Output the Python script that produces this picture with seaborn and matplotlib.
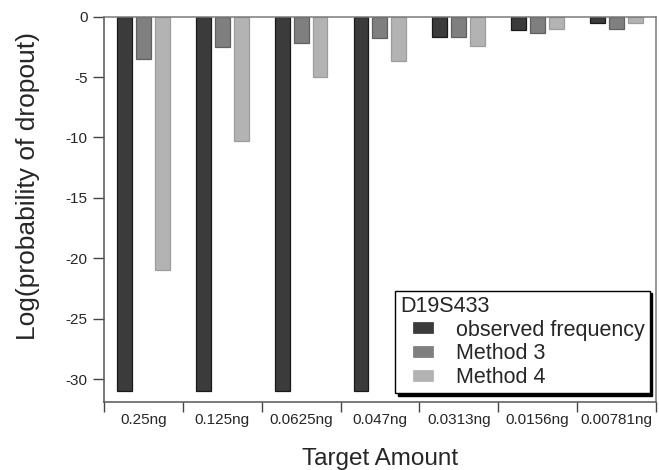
import numpy as np
import pandas as pd
import matplotlib
matplotlib.use("Agg")
import matplotlib.pyplot as plt
from matplotlib.patches import Rectangle
from matplotlib.legend_handler import HandlerPatch
import seaborn as sns

# data
amounts = ["0.25ng", "0.125ng", "0.0625ng", "0.047ng", "0.0313ng", "0.0156ng", "0.00781ng"]
observed = [-31.0, -31.0, -31.0, -31.0, -1.65, -1.1, -0.55]
method3 = [-3.5, -2.5, -2.15, -1.8, -1.7, -1.35, -1.05]
method4 = [-21.0, -10.3, -5.0, -3.7, -2.4, -1.05, -0.55]
series_names = ["observed frequency", "Method 3", "Method 4"]
yticks = [0, -5, -10, -15, -20, -25, -30]

df = pd.DataFrame({
    "amount": amounts * 3,
    "value": observed + method3 + method4,
    "series": np.repeat(series_names, len(amounts)),
})

sns.set_style("white")
plt.rcParams["font.family"] = ["Liberation Sans", "DejaVu Sans"]
plt.rcParams["axes.unicode_minus"] = False

palette = {"observed frequency": "#3b3b3b", "Method 3": "#7f7f7f", "Method 4": "#b3b3b3"}
edge_cols = ["#1a1a1a", "#606060", "#9c9c9c"]

fig = plt.figure(figsize=(6.59, 4.70), dpi=100)
fig.subplots_adjust(left=0.158, right=0.995, top=0.9645, bottom=0.1447)
ax = fig.add_subplot(111)

sns.barplot(data=df, x="amount", y="value", hue="series", palette=palette,
            width=0.72, gap=0.21, linewidth=0.9, ax=ax, order=amounts,
            hue_order=series_names)

# slightly darker outline per series
for cont, ec in zip(ax.containers, edge_cols):
    for bar in cont:
        bar.set_edgecolor(ec)

ax.set_ylim(-31.9, 0)
ax.set_xlim(-0.5, len(amounts) - 0.5)
ax.set_yticks(yticks)
ax.set_yticklabels([str(t) for t in yticks])
ax.set_xticks(np.arange(-0.5, len(amounts), 1), minor=True)

ax.tick_params(axis="y", which="major", direction="out", length=8, width=1.0,
               color="#444444", labelsize=11, pad=4, left=True)
ax.tick_params(axis="x", which="major", length=0, labelsize=11, pad=8)
ax.tick_params(axis="x", which="minor", direction="out", length=7, width=1.0,
               color="#444444", bottom=True)

for side, sp in ax.spines.items():
    sp.set_visible(True)
    sp.set_color("#555555" if side in ("left", "bottom") else "#7a7a7a")
    sp.set_linewidth(1.1)

ax.set_xlabel("Target Amount", fontsize=17.5, labelpad=15)
ax.set_ylabel("Log(probability of dropout)", fontsize=19, labelpad=12)
ax.yaxis.set_label_coords(-0.116, 0.56)

# indent the swatches so the title sits further left than the entries
leg = ax.legend(title="D19S433", loc="lower right", bbox_to_anchor=(0.989, 0.023),
                fontsize=15.5, title_fontsize=15.5, alignment="left",
                frameon=True, fancybox=False, edgecolor="black",
                shadow={"color": "black", "alpha": 1.0},
                handlelength=1.56, handleheight=0.55, handletextpad=1.0,
                labelspacing=0.12, borderpad=0.25, borderaxespad=0,
                handler_map={Rectangle: HandlerPatch(xpad=0.56)})
leg.get_frame().set_linewidth(1.0)
leg.get_frame().set_alpha(1.0)

fig.savefig("out.png", dpi=100, facecolor="white")
